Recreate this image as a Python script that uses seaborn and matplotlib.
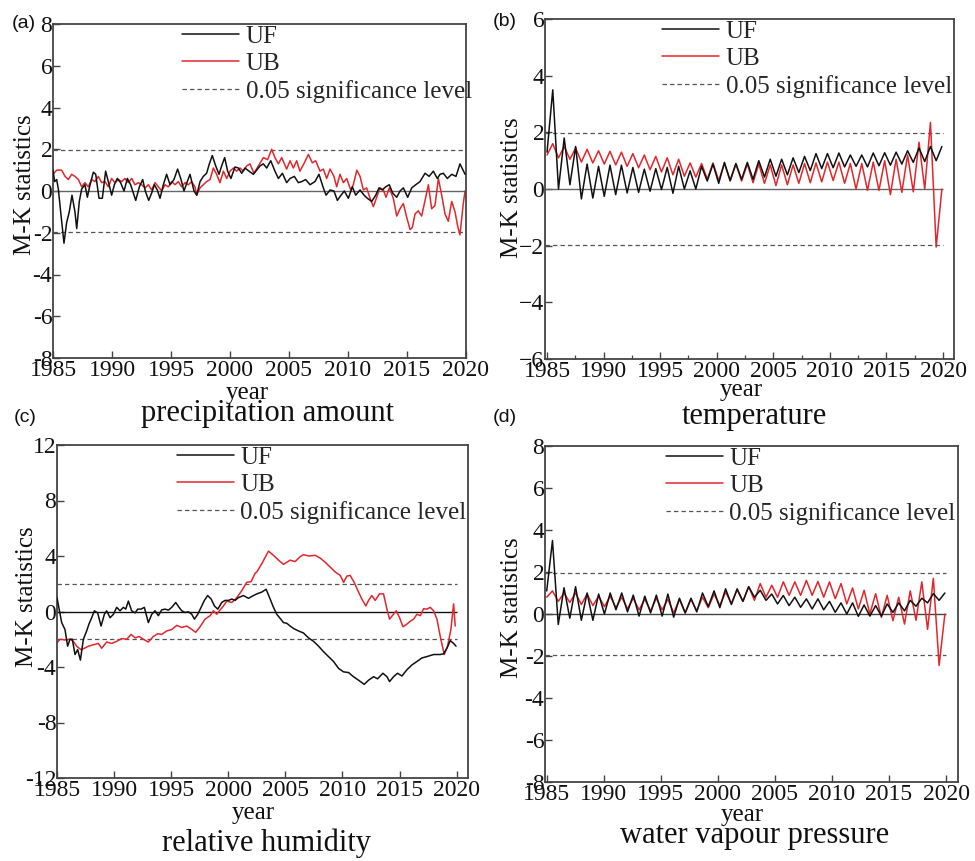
import numpy as np
import matplotlib
matplotlib.use("Agg")
import matplotlib.pyplot as plt
import seaborn as sns
from matplotlib.lines import Line2D

sns.set_style("ticks")
plt.rcParams['font.family'] = ['Liberation Serif', 'DejaVu Serif']
plt.rcParams['axes.unicode_minus'] = False

# ---------------- data ----------------
series_labels = ["UF", "UB", "0.05 significance level"]
panel_titles = ["precipitation amount", "temperature", "relative humidity", "water vapour pressure"]
panel_letters = ["(a)", "(b)", "(c)", "(d)"]
sig_level = 1.96
year_ticks = [1985, 1990, 1995, 2000, 2005, 2010, 2015, 2020]
year_labels = ["1985", "1990", "1995", "2000", "2005", "2010", "2015", "2020"]

# (a) precipitation amount
a_uf_year = [1985.00, 1985.14, 1985.31, 1985.45, 1985.65, 1985.93, 1986.16, 1986.38, 1986.61, 1986.86,
             1987.01, 1987.23, 1987.43, 1987.71, 1987.91, 1988.14, 1988.42, 1988.62, 1988.90, 1989.18,
             1989.46, 1989.69, 1989.97, 1990.20, 1990.45, 1990.73, 1991.02, 1991.30, 1991.58, 1992.01,
             1992.32, 1992.60, 1992.82, 1993.11, 1993.36, 1993.59, 1993.84, 1994.07, 1994.35, 1994.63,
             1994.92, 1995.25, 1995.56, 1995.85, 1996.10, 1996.38, 1996.61, 1996.95, 1997.18, 1997.46,
             1997.74, 1998.02, 1998.25, 1998.50, 1998.79, 1999.07, 1999.29, 1999.55, 1999.80, 2000.08,
             2000.42, 2000.71, 2000.99, 2001.27, 2001.61, 2001.98, 2002.40, 2002.54, 2002.83, 2003.11,
             2003.45, 2003.81, 2004.10, 2004.44, 2004.80, 2005.09, 2005.45, 2005.79, 2006.08, 2006.41,
             2006.78, 2007.20, 2007.54, 2007.91, 2008.14, 2008.48, 2008.81, 2009.10, 2009.41, 2009.69,
             2010.03, 2010.37, 2010.65, 2011.02, 2011.36, 2011.64, 2012.01, 2012.35, 2012.63, 2012.91,
             2013.19, 2013.50, 2013.79, 2014.13, 2014.41, 2014.69, 2015.06, 2015.40, 2015.74, 2016.10,
             2016.53, 2016.87, 2017.23, 2017.57, 2017.80, 2018.08, 2018.42, 2018.79, 2019.15, 2019.49,
             2019.92]
a_uf = [1.0, 0.45, 0.55, 0.1, -1.0, -2.5, -1.5, -1.0, -0.2, -1.0,
        -1.8, -0.5, 0.1, 0.3, -0.3, 0.3, 0.9, 0.8, -0.35, -0.35,
        0.95, 0.45, -0.2, 0.3, 0.6, 0.4, 0.0, 0.6, 0.3, -0.45,
        0.2, 0.55, 0.0, -0.45, -0.1, 0.3, 0.05, -0.35, 0.3, 0.8,
        0.3, 0.55, 1.05, 0.55, 0.0, 0.45, 0.8, 0.0, -0.2, 0.45,
        0.7, 0.85, 1.3, 1.7, 1.2, 0.8, 1.2, 1.6, 0.95, 0.6,
        1.15, 1.1, 0.85, 1.1, 0.95, 0.8, 1.1, 1.2, 1.3, 1.1,
        1.45, 0.95, 0.6, 0.85, 0.4, 0.6, 0.7, 0.4, 0.45, 0.55,
        0.3, 0.45, 0.8, 0.15, -0.2, 0.05, 0.0, -0.45, -0.2, 0.0,
        -0.35, 0.2, -0.2, 0.05, -0.2, -0.35, -0.5, -0.2, 0.15, 0.05,
        0.2, 0.3, -0.1, -0.3, 0.0, 0.15, -0.3, 0.15, 0.3, 0.45,
        0.85, 0.7, 0.95, 0.6, 0.8, 0.85, 0.6, 0.8, 0.7, 1.3,
        0.8]
a_ub_year = [1985.00, 1985.31, 1985.73, 1986.02, 1986.30, 1986.58, 1986.86, 1987.15, 1987.43, 1987.71,
             1987.99, 1988.28, 1988.56, 1988.84, 1989.12, 1989.41, 1989.69, 1989.97, 1990.25, 1990.54,
             1990.82, 1991.10, 1991.38, 1991.67, 1991.95, 1992.23, 1992.51, 1992.80, 1993.08, 1993.36,
             1993.64, 1993.93, 1994.21, 1994.49, 1994.77, 1995.06, 1995.34, 1995.62, 1995.90, 1996.19,
             1996.47, 1996.75, 1997.03, 1997.18, 1997.46, 1997.74, 1998.02, 1998.31, 1998.59, 1998.87,
             1999.15, 1999.44, 1999.72, 2000.00, 2000.28, 2000.56, 2000.85, 2001.13, 2001.41, 2001.69,
             2002.03, 2002.40,
             2002.83, 2003.19, 2003.53, 2003.81, 2004.10, 2004.38, 2004.80, 2005.09, 2005.37, 2005.65,
             2005.93, 2006.30, 2006.64, 2006.98, 2007.26, 2007.63, 2007.91, 2008.19, 2008.48, 2008.81,
             2009.04, 2009.32, 2009.61, 2009.89, 2010.23, 2010.45, 2010.75, 2011.02, 2011.30, 2011.58,
             2011.87, 2012.15, 2012.43, 2012.71, 2013.00, 2013.22, 2013.50, 2013.84, 2014.13, 2014.41,
             2014.69, 2014.97, 2015.26, 2015.45, 2015.68, 2015.96, 2016.24, 2016.53, 2016.81, 2017.09,
             2017.37, 2017.66, 2017.94, 2018.22, 2018.50, 2018.79, 2019.07, 2019.30, 2019.49, 2019.63,
             2019.77, 2019.92]
a_ub = [0.8, 1.0, 1.0, 0.7, 0.55, 0.8, 0.7, 0.55, 0.2, 0.4,
        0.2, 0.55, 0.45, 0.7, 0.4, 0.45, 0.2, 0.6, 0.4, 0.55,
        0.45, 0.6, 0.4, 0.6, 0.3, 0.4, 0.3, 0.15, 0.3, 0.05,
        0.4, 0.2, 0.0, 0.3, 0.2, 0.45, 0.3, 0.45, 0.2, 0.4,
        0.3, 0.45, 0.2, -0.2, 0.15, 0.3, 0.45, 0.55, 1.1, 0.8,
        0.4, 0.95, 0.6, 0.95, 1.1, 0.95, 1.1, 0.95, 1.2, 1.3,
        0.85, 1.2,
        1.6, 1.5, 2.0, 1.6, 1.3, 1.6, 1.05, 1.45, 1.1, 1.45,
        0.95, 1.35, 1.75, 1.35, 1.45, 0.95, 1.05, 0.6, 1.05, 0.7,
        0.2, 0.8, 0.4, 0.6, 0.05, 0.3, 1.0, 0.7, 0.05, 0.15,
        -0.35, -0.75, -0.3, 0.15, 0.05, -0.3, 0.15, -0.35, -1.2, -0.85,
        -0.6, -1.25, -1.85, -1.75, -1.1, -0.95, -1.2, -0.45, 0.3, -0.85,
        -0.7, 0.6, -0.2, -1.1, -1.45, -0.5, -1.0, -1.7, -2.1, -1.35,
        -0.6, 0.0]

# (b) temperature: alternating seasonal troughs / peaks, 1985.0 .. 2019.9
b_first_year, b_last_year = 1985.0, 2019.9
b_uf = [1.3, 3.5, 0.0, 1.8, 0.15, 1.5, -0.35, 0.88, -0.32, 0.8,
        -0.26, 0.84, -0.2, 0.84, -0.14, 0.76, -0.12, 0.7, -0.08, 0.72,
        -0.02, 0.76, -0.15, 0.8, 0.0, 0.64, 0.0, 0.8, 0.28, 0.88,
        0.2, 0.94, 0.3, 0.9, 0.34, 0.94, 0.34, 1.0, 0.42, 1.05,
        0.45, 1.05, 0.5, 1.1, 0.58, 1.15, 0.65, 1.25, 0.72, 1.25,
        0.75, 1.27, 0.78, 1.2, 0.8, 1.2, 0.78, 1.27, 0.82, 1.28,
        0.84, 1.3, 0.88, 1.35, 0.94, 1.45, 0.97, 1.5, 1.0, 1.5]
b_ub = [1.2, 1.6, 1.1, 1.5, 1.05, 1.45, 0.95, 1.4, 0.92, 1.35,
        0.88, 1.33, 0.85, 1.3, 0.8, 1.25, 0.75, 1.2, 0.68, 1.15,
        0.6, 1.1, 0.5, 1.05, 0.45, 0.92, 0.42, 0.9, 0.35, 0.92,
        0.3, 0.9, 0.28, 0.88, 0.28, 0.88, 0.22, 0.88, 0.2, 0.85,
        0.12, 0.85, 0.15, 0.85, 0.2, 0.9, 0.22, 0.92, 0.25, 0.95,
        0.3, 0.95, 0.2, 0.9, 0.0, 0.9, -0.05, 0.95, -0.05, 1.0,
        -0.2, 1.05, -0.12, 1.2, -0.1, 1.65, 0.0, 2.35, -2.05, 0.0]

# (c) relative humidity
c_uf_year = [1985.00, 1985.18, 1985.41, 1985.70, 1985.93, 1986.14, 1986.34, 1986.58, 1986.81, 1987.05,
             1987.31, 1987.60, 1987.80, 1988.04, 1988.27, 1988.56, 1988.86, 1989.15, 1989.35, 1989.65,
             1989.94, 1990.23, 1990.52, 1990.81, 1991.02, 1991.25, 1991.54, 1991.84, 1992.07, 1992.36,
             1992.65, 1993.00, 1993.30, 1993.59, 1993.88, 1994.17, 1994.47, 1994.76, 1995.05, 1995.40,
             1995.69, 1995.93, 1996.22, 1996.51, 1996.80, 1997.04, 1997.33, 1997.62, 1997.91, 1998.20,
             1998.50, 1998.79, 1999.08, 1999.43, 1999.72, 2000.02, 2000.31, 2000.60, 2000.89, 2001.33,
             2001.77, 2002.21,
             2002.50, 2002.94, 2003.32, 2003.67, 2003.96, 2004.25, 2004.55, 2004.84, 2005.13, 2005.42,
             2005.77, 2006.15, 2006.59, 2007.03, 2007.47, 2007.91, 2008.35, 2008.78, 2009.22, 2009.66,
             2010.10, 2010.54, 2010.97, 2011.41, 2011.91, 2012.29, 2012.73, 2013.08, 2013.55, 2013.90,
             2014.13, 2014.48, 2014.83, 2015.21, 2015.65, 2016.09, 2016.53, 2016.96, 2017.40, 2017.99,
             2018.57, 2018.86, 2019.15, 2019.45, 2019.74, 2019.95]
c_uf = [1.0, 0.2, -0.8, -1.3, -2.5, -2.0, -2.0, -3.1, -2.75, -3.5,
        -2.0, -1.4, -0.9, -0.45, 0.05, -0.1, -1.05, -0.2, 0.05, -0.45,
        -0.2, 0.3, 0.05, 0.3, 0.17, 0.75, 0.05, -0.1, 0.17, 0.17,
        0.3, -0.8, -0.2, 0.05, -0.3, 0.12, 0.17, 0.1, 0.3, 0.65,
        0.3, 0.05, -0.07, -0.02, -0.2, -0.55, -0.2, 0.3, 0.8, 1.15,
        0.9, 0.4, 0.17, 0.65, 0.8, 0.8, 0.9, 0.8, 1.0, 1.15,
        0.95, 1.15,
        1.27, 1.4, 1.6, 0.9, 0.3, -0.2, -0.5, -0.8, -0.85, -1.05,
        -1.25, -1.4, -1.55, -1.9, -2.15, -2.5, -2.9, -3.25, -3.6, -4.1,
        -4.35, -4.4, -4.7, -4.95, -5.25, -4.95, -4.7, -4.85, -4.45, -4.7,
        -5.05, -4.7, -4.45, -4.65, -4.2, -3.85, -3.6, -3.35, -3.25, -3.1,
        -3.1, -3.05, -2.65, -2.1, -2.3, -2.5]
c_ub_year = [1985.00, 1985.26, 1985.70, 1986.14, 1986.43, 1986.72, 1987.10, 1987.40, 1987.75, 1988.18,
             1988.62, 1988.91, 1989.35, 1989.79, 1990.23, 1990.67, 1991.11, 1991.49, 1991.84, 1992.19,
             1992.57, 1993.00, 1993.44, 1993.82, 1994.17, 1994.61, 1995.05, 1995.49, 1995.93, 1996.36,
             1996.74, 1997.15, 1997.53, 1997.97, 1998.41, 1998.70, 1998.99, 1999.29, 1999.58, 1999.87,
             2000.31, 2000.75, 2001.18, 2001.62, 2002.00, 2002.35,
             2002.50, 2002.94, 2003.52, 2003.96, 2004.40, 2004.84, 2005.13, 2005.42, 2005.86, 2006.30,
             2006.59, 2007.03, 2007.61, 2008.05, 2008.49, 2008.93, 2009.37, 2009.81, 2010.10, 2010.39,
             2010.68, 2011.03, 2011.41, 2011.70, 2012.05, 2012.29, 2012.58, 2012.87, 2013.25, 2013.60,
             2013.90, 2014.13, 2014.42, 2014.71, 2015.01, 2015.30, 2015.59, 2015.94, 2016.23, 2016.53,
             2016.82, 2017.11, 2017.40, 2017.69, 2017.99, 2018.28, 2018.57, 2018.92, 2019.21, 2019.50,
             2019.74, 2019.88]
c_ub = [-2.25, -2.0, -2.05, -2.0, -2.15, -2.5, -2.75, -2.65, -2.5, -2.4,
        -2.3, -2.65, -2.2, -2.3, -2.15, -1.95, -2.0, -1.65, -1.9, -1.8,
        -2.0, -2.2, -1.8, -1.6, -1.65, -1.4, -1.3, -1.0, -1.15, -1.05,
        -1.25, -1.5, -1.1, -0.55, -0.3, 0.05, -0.2, 0.12, 0.4, 0.75,
        0.65, 1.0, 1.5, 2.1, 2.15, 2.75,
        2.85, 3.45, 4.35, 4.05, 3.7, 3.4, 3.55, 3.7, 3.6, 3.95,
        4.1, 4.0, 4.05, 3.85, 3.55, 3.2, 2.85, 2.6, 2.1, 2.55,
        2.6, 2.1, 1.4, 0.9, 0.4, 0.8, 1.15, 0.8, 1.27, 1.27,
        0.17, -0.55, -0.25, 0.05, -0.45, -1.1, -0.95, -0.7, -0.55, -0.2,
        -0.3, 0.2, 0.17, 0.3, 0.05, -0.55, -1.8, -3.1, -2.5, -1.3,
        0.55, -1.05]

# (d) water vapour pressure: alternating seasonal troughs / peaks
d_first_year, d_last_year = 1985.0, 2019.9
d_uf = [1.1, 3.5, -0.5, 1.25, -0.2, 1.3, -0.3, 1.0, -0.3, 0.95,
        0.0, 1.0, 0.2, 1.0, 0.1, 0.9, -0.1, 0.85, 0.05, 0.9,
        -0.1, 0.95, -0.15, 0.75, 0.05, 0.75, 0.1, 1.0, 0.35, 1.1,
        0.3, 1.2, 0.45, 1.2, 0.6, 1.3, 0.8, 1.13, 0.65, 0.95,
        0.48, 0.88, 0.4, 0.8, 0.32, 0.72, 0.24, 0.72, 0.2, 0.6,
        0.08, 0.53, 0.0, 0.53, -0.11, 0.43, -0.1, 0.4, -0.1, 0.48,
        0.08, 0.53, 0.15, 0.65, 0.37, 0.75, 0.53, 0.97, 0.65, 1.0]
d_ub = [0.8, 1.1, 0.6, 1.0, 0.55, 1.0, 0.45, 0.95, 0.4, 0.85,
        0.35, 0.85, 0.3, 0.8, 0.25, 0.75, 0.2, 0.7, 0.15, 0.75,
        0.2, 0.7, 0.05, 0.7, 0.05, 0.7, 0.15, 0.8, 0.3, 0.95,
        0.4, 1.05, 0.5, 1.15, 0.6, 1.3, 0.65, 1.45, 0.8, 1.37,
        0.8, 1.53, 0.89, 1.53, 0.89, 1.6, 0.89, 1.55, 0.8, 1.53,
        0.73, 1.45, 0.48, 1.24, 0.24, 1.13, 0.0, 0.97, -0.16, 0.89,
        -0.32, 0.8, -0.48, 1.1, -0.3, 1.53, -0.73, 1.7, -2.45, 0.0]

a_yticks = [-8, -6, -4, -2, 0, 2, 4, 6, 8]
b_yticks = [-6, -4, -2, 0, 2, 4, 6]
c_yticks = [-12, -8, -4, 0, 4, 8, 12]
d_yticks = [-8, -6, -4, -2, 0, 2, 4, 6, 8]
a_ylabels = ["-8", "-6", "-4", "-2", "0", "2", "4", "6", "8"]
b_ylabels = ["\u22126", "\u22124", "\u22122", "0", "2", "4", "6"]
c_ylabels = ["-12", "-8", "-4", "0", "4", "8", "12"]
d_ylabels = ["-8", "-6", "-4", "-2", "0", "2", "4", "6", "8"]

b_year = np.linspace(b_first_year, b_last_year, len(b_uf))
d_year = np.linspace(d_first_year, d_last_year, len(d_uf))

# ---------------- figure ----------------
W, H = 975, 861
fig = plt.figure(figsize=(W / 100, H / 100), dpi=100)
fig.patch.set_facecolor("white")


def rect(l, t, r, b):
    return [l / W, 1 - b / H, (r - l) / W, (b - t) / H]


RED = "#e3262b"
GREY_DASH = "#555555"

panels = [
    dict(rect=rect(53, 24, 466, 358), xlim=(1985, 2020), ylim=(-8, 8),
         yt=a_yticks, yl=a_ylabels, uf=(a_uf_year, a_uf), ub=(a_ub_year, a_ub),
         zc="#666666", leg_x=0.312, minor=False,
         ylab=(-0.068, 0.52), year=(0.47, -0.105), ttl=(0.52, -0.165)),
    dict(rect=rect(545, 19, 954, 359), xlim=(1984.82, 2020.97), ylim=(-6, 6),
         yt=b_yticks, yl=b_ylabels, uf=(b_year, b_uf), ub=(b_year, b_ub),
         zc="#666666", leg_x=0.286, minor=True,
         ylab=(-0.08, 0.503), year=(0.48, -0.09), ttl=(0.513, -0.168)),
    dict(rect=rect(57, 445, 468, 778), xlim=(1985, 2021), ylim=(-12, 12),
         yt=c_yticks, yl=c_ylabels, uf=(c_uf_year, c_uf), ub=(c_ub_year, c_ub),
         zc="#111111", leg_x=0.291, minor=False,
         ylab=(-0.073, 0.543), year=(0.477, -0.105), ttl=(0.51, -0.195)),
    dict(rect=rect(545, 446, 958, 782), xlim=(1984.85, 2021.05), ylim=(-8, 8),
         yt=d_yticks, yl=d_ylabels, uf=(d_year, d_uf), ub=(d_year, d_ub),
         zc="#444444", leg_x=0.292, minor=False,
         ylab=(-0.08, 0.52), year=(0.477, -0.098), ttl=(0.508, -0.158)),
]

letter_pos = [(24, 23), (505, 22), (25, 418), (505, 417)]

for i, p in enumerate(panels):
    ax = fig.add_axes(p["rect"])
    ax.set_facecolor("white")
    x0, x1 = p["xlim"]
    # reference lines
    ax.hlines(0, x0, 2020, color=p["zc"], lw=1.0, zorder=1)
    for s in (sig_level, -sig_level):
        ax.hlines(s, x0, 2020, color=GREY_DASH, lw=0.9, linestyles=(0, (3.5, 2.5)), zorder=1)
    sns.lineplot(x=p["uf"][0], y=p["uf"][1], ax=ax, color="#111111", lw=1.1,
                 estimator=None, sort=False, legend=False, zorder=3)
    sns.lineplot(x=p["ub"][0], y=p["ub"][1], ax=ax, color=RED, lw=1.1,
                 estimator=None, sort=False, legend=False, zorder=2)
    ax.set_xlim(x0, x1)
    ax.set_ylim(*p["ylim"])
    ax.set_xticks(year_ticks)
    ax.set_xticklabels(year_labels)
    ax.set_yticks(p["yt"])
    ax.set_yticklabels(p["yl"])
    if p["minor"]:
        ax.set_xticks([1987.5, 1992.5, 1997.5, 2002.5, 2007.5, 2012.5, 2017.5], minor=True)
        ax.tick_params(axis="x", which="minor", direction="in", length=3, width=0.9, color="#444444")
    ax.tick_params(axis="both", which="major", direction="in", length=5, width=1.0,
                   labelsize=17, color="#444444", labelcolor="#111111")
    ax.tick_params(axis="x", which="major", pad=1.5)
    ax.tick_params(axis="y", which="major", pad=0.5)
    ax.set_xlabel("")
    ax.set_ylabel("")
    for sp in ax.spines.values():
        sp.set_visible(True)
        sp.set_color("#444444")
        sp.set_linewidth(1.3)

    handles = [Line2D([], [], color="#111111", lw=1.1),
               Line2D([], [], color=RED, lw=1.1),
               Line2D([], [], color=GREY_DASH, lw=0.9, ls=(0, (3.5, 2.5)))]
    ax.legend(handles, series_labels, loc="upper left", bbox_to_anchor=(p["leg_x"], 0.995),
              frameon=False, fontsize=18, handlelength=2.3, handletextpad=0.25,
              labelspacing=0.18, borderpad=0.0, borderaxespad=0.0)

    ax.text(*p["ylab"], "M-K statistics", rotation=90, transform=ax.transAxes,
            ha="center", va="center", fontsize=18, color="#111111")
    ax.text(*p["year"], "year", transform=ax.transAxes, ha="center", va="center",
            fontsize=18, color="#111111")
    ax.text(*p["ttl"], panel_titles[i], transform=ax.transAxes, ha="center", va="center",
            fontsize=22, color="#111111")

    lx, ly = letter_pos[i]
    fig.text(lx / W, 1 - ly / H, panel_letters[i], ha="center", va="center",
             fontsize=14, family=["Liberation Sans", "DejaVu Sans"], color="#111111")

fig.savefig("out.png", dpi=100, facecolor="white")
